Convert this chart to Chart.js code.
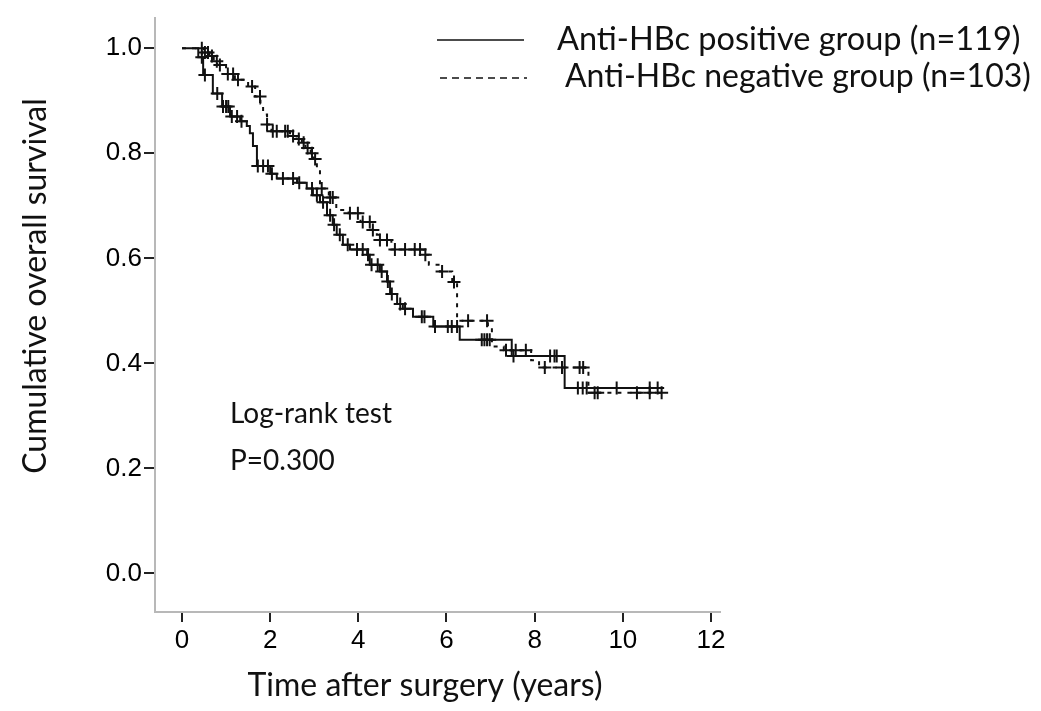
<!DOCTYPE html>
<html>
<head>
<meta charset="utf-8">
<script src="https://cdn.jsdelivr.net/npm/chart.js@4.4.1/dist/chart.umd.min.js"></script>
<style>
  html, body { margin: 0; padding: 0; background: #fff; }
  #wrap { width: 1041px; height: 711px; }
</style>
</head>
<body>
<div id="wrap"><canvas id="km" width="1041" height="711"></canvas></div>
<script>
// Kaplan-Meier steps (time in years, cumulative survival)
const posTimes = [0, 0.37, 0.48, 0.70, 0.91, 1.09, 1.32, 1.47, 1.54, 1.61, 1.70, 2.00, 2.15, 2.61, 2.83, 2.97, 3.13, 3.29, 3.42, 3.51, 3.65, 3.81, 4.20, 4.26, 4.49, 4.65, 4.72, 4.88, 5.01, 5.24, 5.70, 6.30, 7.48, 8.68, 10.9];
const posSurv  = [1.0, 0.983, 0.949, 0.914, 0.889, 0.870, 0.861, 0.852, 0.838, 0.814, 0.776, 0.761, 0.752, 0.744, 0.733, 0.720, 0.707, 0.682, 0.664, 0.645, 0.626, 0.617, 0.607, 0.588, 0.575, 0.556, 0.532, 0.513, 0.504, 0.489, 0.470, 0.445, 0.414, 0.353, 0.353];

const negTimes = [0, 0.50, 0.62, 0.72, 0.80, 1.00, 1.20, 1.50, 1.66, 1.78, 1.84, 1.93, 2.03, 2.45, 2.60, 2.72, 2.80, 2.92, 2.99, 3.06, 3.13, 3.33, 3.50, 3.78, 4.05, 4.30, 4.42, 4.48, 4.75, 5.48, 5.60, 5.85, 6.13, 6.24, 6.94, 7.03, 7.30, 7.92, 8.10, 9.15, 9.22, 10.9];
const negSurv  = [1.0, 0.992, 0.985, 0.975, 0.968, 0.951, 0.940, 0.927, 0.908, 0.895, 0.874, 0.855, 0.842, 0.833, 0.827, 0.820, 0.810, 0.800, 0.789, 0.771, 0.733, 0.716, 0.692, 0.686, 0.669, 0.654, 0.645, 0.635, 0.617, 0.607, 0.588, 0.575, 0.555, 0.481, 0.470, 0.432, 0.425, 0.406, 0.392, 0.385, 0.344, 0.344];

// censored cases (+)
const posCensT = [0.45, 0.52, 0.80, 0.93, 1.00, 1.05, 1.13, 1.25, 1.35, 1.72, 1.84, 1.95, 2.04, 2.29, 2.52, 2.66, 2.95, 3.06, 3.20, 3.36, 3.45, 3.58, 3.76, 3.97, 4.10, 4.22, 4.30, 4.44, 4.53, 4.67, 4.76, 4.95, 5.06, 5.44, 5.50, 5.74, 6.03, 6.12, 6.24, 6.80, 6.86, 6.92, 6.98, 7.52, 8.35, 8.45, 8.50, 8.98, 9.09, 9.18, 9.86, 10.61, 10.79];
const posCensS = [0.983, 0.949, 0.914, 0.889, 0.889, 0.889, 0.870, 0.870, 0.861, 0.776, 0.776, 0.776, 0.761, 0.752, 0.752, 0.744, 0.733, 0.720, 0.707, 0.682, 0.664, 0.645, 0.626, 0.617, 0.617, 0.607, 0.588, 0.588, 0.575, 0.556, 0.532, 0.513, 0.504, 0.489, 0.489, 0.470, 0.470, 0.470, 0.470, 0.445, 0.445, 0.445, 0.445, 0.414, 0.414, 0.414, 0.414, 0.353, 0.353, 0.353, 0.353, 0.353, 0.353];

const negCensT = [0.45, 0.52, 0.59, 0.68, 0.79, 0.86, 1.04, 1.16, 1.27, 1.59, 1.77, 1.93, 2.06, 2.15, 2.34, 2.40, 2.52, 2.65, 2.76, 2.85, 2.95, 3.02, 3.17, 3.36, 3.42, 3.81, 3.99, 4.10, 4.26, 4.33, 4.49, 4.65, 4.83, 5.06, 5.28, 5.40, 5.52, 5.90, 6.17, 6.49, 6.92, 7.35, 7.57, 7.80, 8.23, 8.62, 9.02, 9.10, 9.36, 9.43, 10.32, 10.61, 10.88];
const negCensS = [1.0, 0.992, 0.992, 0.985, 0.975, 0.968, 0.951, 0.951, 0.940, 0.927, 0.908, 0.855, 0.842, 0.842, 0.842, 0.842, 0.833, 0.827, 0.820, 0.810, 0.800, 0.789, 0.733, 0.716, 0.716, 0.686, 0.686, 0.669, 0.669, 0.654, 0.635, 0.635, 0.617, 0.617, 0.617, 0.617, 0.607, 0.575, 0.555, 0.481, 0.481, 0.425, 0.425, 0.425, 0.392, 0.392, 0.392, 0.392, 0.344, 0.344, 0.344, 0.344, 0.344];

const xTicks = [0, 2, 4, 6, 8, 10, 12];
const xTickLabels = ['0', '2', '4', '6', '8', '10', '12'];
const yTicks = [0, 0.2, 0.4, 0.6, 0.8, 1.0];
const yTickLabels = ['0.0', '0.2', '0.4', '0.6', '0.8', '1.0'];

const legendLabels = ['Anti-HBc positive group (n=119)', 'Anti-HBc negative group (n=103)'];
const noteLines = ['Log-rank test', 'P=0.300'];
const xTitle = 'Time after surgery (years)';
const yTitle = 'Cumulative overall survival';

function pts(xs, ys){ return xs.map((x, i) => ({ x: x, y: ys[i] })); }

const TXT = 'Lato, "Open Sans", sans-serif';

// titles, legend and the log-rank note drawn on top
const extras = {
  id: 'extras',
  afterDraw(chart){
    const ctx = chart.ctx;
    ctx.save();
    ctx.fillStyle = '#111';
    ctx.textBaseline = 'middle';

    ctx.font = '32px ' + TXT;
    ctx.textAlign = 'center';
    ctx.fillText(xTitle, 425, 686);
    ctx.save();
    ctx.translate(36, 286);
    ctx.rotate(-Math.PI / 2);
    ctx.fillText(yTitle, 0, 0);
    ctx.restore();

    ctx.textAlign = 'left';
    ctx.font = '32.5px ' + TXT;
    ctx.fillText(legendLabels[0], 557, 40);
    ctx.font = '32px ' + TXT;
    ctx.fillText(legendLabels[1], 565, 77);

    ctx.strokeStyle = '#111';
    ctx.lineWidth = 1.5;
    ctx.beginPath(); ctx.moveTo(437, 40); ctx.lineTo(524, 40); ctx.stroke();
    ctx.setLineDash([7, 5]);
    ctx.beginPath(); ctx.moveTo(440, 78); ctx.lineTo(527, 78); ctx.stroke();
    ctx.setLineDash([]);

    ctx.font = '28px ' + TXT;
    ctx.fillText(noteLines[0], 230, 414);
    ctx.fillText(noteLines[1], 230, 461);
    ctx.restore();
  }
};

new Chart(document.getElementById('km'), {
  type: 'line',
  data: {
    datasets: [
      { label: legendLabels[0], data: pts(posTimes, posSurv), stepped: true, borderColor: '#111', borderWidth: 2, pointRadius: 0, fill: false },
      { label: legendLabels[1], data: pts(negTimes, negSurv), stepped: true, borderColor: '#111', borderWidth: 2, borderDash: [4, 6], pointRadius: 0, fill: false },
      { label: 'pos censored', data: pts(posCensT, posCensS), showLine: false, pointStyle: 'cross', pointRadius: 6.5, pointBorderWidth: 2, pointBorderColor: '#111' },
      { label: 'neg censored', data: pts(negCensT, negCensS), showLine: false, pointStyle: 'cross', pointRadius: 6.5, pointBorderWidth: 2, pointBorderColor: '#111' }
    ]
  },
  options: {
    responsive: false,
    animation: false,
    layout: { padding: { top: 10, right: 321, left: 0, bottom: 0 } },
    plugins: { legend: { display: false }, tooltip: { enabled: false } },
    scales: {
      x: {
        type: 'linear',
        min: -0.612, max: 12.204,
        afterBuildTicks: s => { s.ticks = xTicks.map(v => ({ value: v })); },
        afterFit: s => { s.height = 99; },
        grid: { drawOnChartArea: false, drawTicks: true, tickLength: 10, color: '#222', lineWidth: 2 },
        border: { display: true, color: '#b8b8b8', width: 2 },
        ticks: { autoSkip: false, maxRotation: 0, padding: 3, color: '#000', font: { family: '"Liberation Sans", Arial', size: 26 }, callback: (v, i) => xTickLabels[i] }
      },
      y: {
        min: -0.0733, max: 1.0583,
        afterBuildTicks: s => { s.ticks = yTicks.map(v => ({ value: v })); },
        afterFit: s => { s.width = 155; },
        grid: { drawOnChartArea: false, drawTicks: true, tickLength: 11, color: '#222', lineWidth: 2 },
        border: { display: true, color: '#b8b8b8', width: 2 },
        ticks: { autoSkip: false, padding: 2, color: '#000', font: { family: '"Liberation Sans", Arial', size: 26 }, callback: (v, i) => yTickLabels[i] }
      }
    }
  },
  plugins: [extras]
});
</script>
</body>
</html>
